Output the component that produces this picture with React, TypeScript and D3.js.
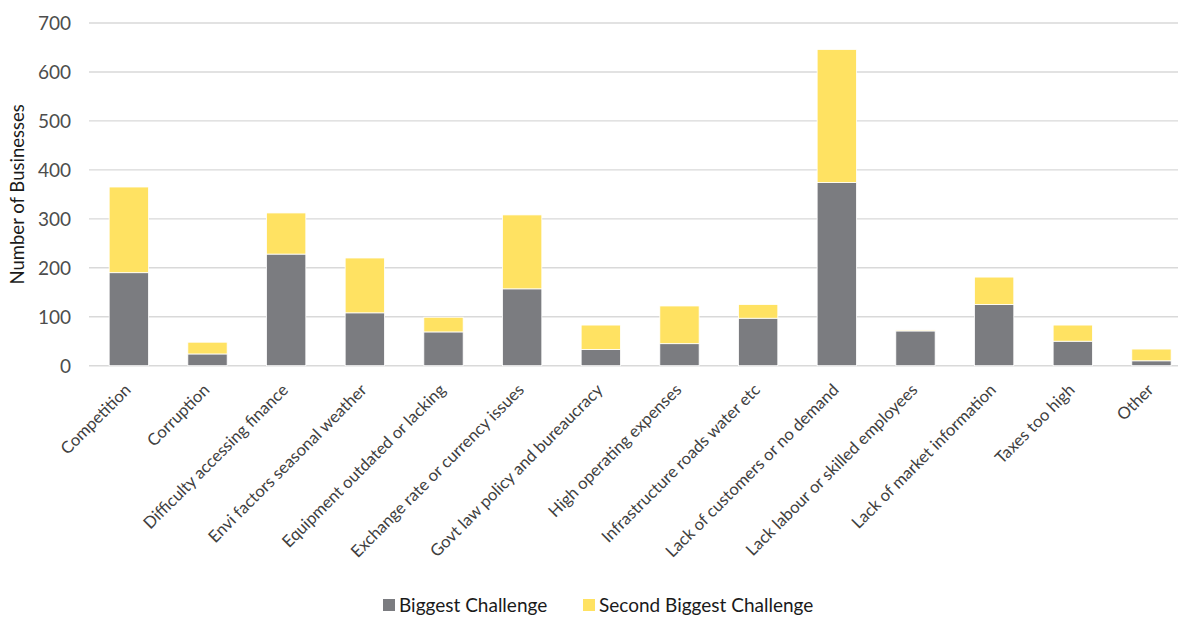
import React from "react";
import * as d3 from "d3";

const categories = [
  "Competition",
  "Corruption",
  "Difficulty accessing finance",
  "Envi factors seasonal weather",
  "Equipment outdated or lacking",
  "Exchange rate or currency issues",
  "Govt law policy and bureaucracy",
  "High operating expenses",
  "Infrastructure roads water etc",
  "Lack of customers or no demand",
  "Lack labour or skilled employees",
  "Lack of market information",
  "Taxes too high",
  "Other",
];

const biggest = [190, 24, 228, 108, 69, 157, 33, 45, 97, 374, 71, 125, 50, 10];
const secondBiggest = [175, 24, 84, 112, 30, 151, 50, 77, 28, 272, 2, 56, 33, 24];

const seriesNames = ["Biggest Challenge", "Second Biggest Challenge"];
const seriesColors = ["#7b7c80", "#ffe262"];
const yTicks = [0, 100, 200, 300, 400, 500, 600, 700];

const W = 1178;
const H = 618;
const FONT = "Lato, 'Open Sans', sans-serif";

export default function App() {
  const x = d3
    .scaleBand<string>()
    .domain(categories)
    .range([89.5, 1190.8])
    .paddingInner(0.5)
    .paddingOuter(0.25);
  const y = d3.scaleLinear().domain([0, 700]).range([365.7, 23]);

  const rows = categories.map((c, i) => ({
    cat: c,
    biggest: biggest[i],
    second: secondBiggest[i],
  }));
  const stacked = d3.stack<any>().keys(["biggest", "second"])(rows);

  return (
    <svg
      width={W}
      height={H}
      style={{ position: "absolute", left: 0, top: 0, background: "#fff" }}
      fontFamily={FONT}
    >
      {/* gridlines */}
      {yTicks.map((t) => (
        <line
          key={t}
          x1={89}
          x2={W}
          y1={y(t)}
          y2={y(t)}
          stroke="#d9d9d9"
          strokeWidth={1.4}
        />
      ))}
      {/* y tick labels */}
      {yTicks.map((t) => (
        <text
          key={t}
          x={71}
          y={y(t)}
          dy="0.36em"
          textAnchor="end"
          fontSize={19}
          fill="#4d4d4d"
        >
          {t}
        </text>
      ))}
      <text
        transform={`translate(24,${(y(0) + y(700)) / 2}) rotate(-90)`}
        textAnchor="middle"
        fontSize={18.5}
        fill="#1a1a1a"
      >
        Number of Businesses
      </text>

      {/* stacked bars */}
      {stacked.map((layer, li) => (
        <g key={li} fill={seriesColors[li]}>
          {layer.map((d, i) => (
            <rect
              key={i}
              x={x(categories[i])}
              width={x.bandwidth()}
              y={y(d[1])}
              height={y(d[0]) - y(d[1])}
              stroke="#ffffff"
              strokeWidth={0.8}
            />
          ))}
        </g>
      ))}

      {/* category labels */}
      {categories.map((c) => {
        const cx = (x(c) as number) + x.bandwidth() / 2;
        return (
          <text
            key={c}
            transform={`translate(${cx + 3},${391}) rotate(-45)`}
            textAnchor="end"
            fontSize={16.6}
            fill="#404040"
          >
            {c}
          </text>
        );
      })}

      {/* legend */}
      {seriesNames.map((n, i) => {
        const lx = i === 0 ? 383 : 583;
        return (
          <g key={n}>
            <rect x={lx} y={599} width={12} height={12} fill={seriesColors[i]} />
            <text x={lx + 16} y={612} fontSize={19} fill="#1a1a1a">
              {n}
            </text>
          </g>
        );
      })}
    </svg>
  );
}
